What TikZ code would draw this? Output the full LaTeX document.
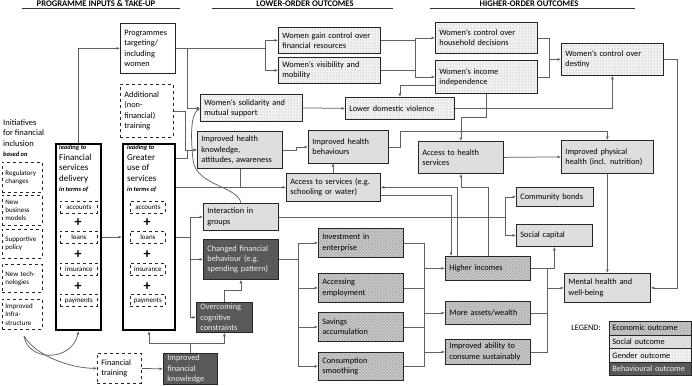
\documentclass[tikz,border=0pt]{standalone}
\usepackage{fontspec}
\setmainfont{Carlito}
\usetikzlibrary{arrows.meta,patterns,calc}
\colorlet{lineGray}{black!62}
\colorlet{socialGray}{black!13}
\colorlet{econGray}{black!18}
\colorlet{genderGray}{black!5}
\colorlet{behavGray}{black!65}

\begin{document}
\begin{tikzpicture}[x=1pt, y=-1pt,
    every node/.style={font=\fontsize{8.3}{10.3}\selectfont, inner xsep=4pt, inner ysep=1pt, align=left},
    bx/.style 2 args={anchor=north west, text width=#1pt, minimum height=#2pt},
    outc/.style={draw=black!85, line width=0.8pt},
    econ/.style={outc, preaction={fill=econGray}, pattern=crosshatch, pattern color=black!32},
    social/.style={outc, fill=socialGray},
    gender/.style={outc, preaction={fill=genderGray}, pattern=dots, pattern color=black!40},
    behav/.style={outc, fill=behavGray, text=black!6},
    inbox/.style={draw=black!85, line width=0.8pt, fill=white},
    dashbox/.style={inbox, dashed},
    initbox/.style={dashbox, font=\fontsize{7}{8.3}\selectfont, inner xsep=3pt},
    termbox/.style={dashbox, font=\fontsize{7}{8}\selectfont, inner xsep=1pt, align=center},
    column/.style={draw=black, line width=2pt, fill=white, anchor=north west, inner sep=0pt},
    coltext/.style={anchor=north west, inner sep=0pt, font=\fontsize{9}{10.5}\selectfont},
    plus/.style={font=\fontsize{14}{14}\selectfont\bfseries, inner sep=0pt},
    hdr/.style={font=\fontsize{8.6}{10}\selectfont\bfseries, inner sep=0pt},
    conn/.style={draw=lineGray, line width=0.75pt},
    arr/.style={conn, -{Latex[length=3.5pt,width=3pt]}}
  ]
  \useasboundingbox (0,0) rectangle (692,385);
  \newcommand{\smallit}[1]{{\fontsize{6.5}{7}\selectfont\bfseries\itshape #1}}

  % headings
  \node[hdr] (hdin) at (96,3.5) {PROGRAMME INPUTS \& TAKE-UP};
  \node[hdr] (hdlow) at (305,3.5) {LOWER-ORDER OUTCOMES};
  \node[hdr] (hdhigh) at (529,3.5) {HIGHER-ORDER OUTCOMES};
  \draw[black!80, line width=1pt] (22,8.5) -- (180,8.5);
  \draw[black!80, line width=1pt] (212,8.5) -- (393,8.5);
  \draw[black!80, line width=1pt] (430,8.5) -- (635,8.5);

  % programme inputs
  \node[coltext, font=\fontsize{8.5}{10.5}\selectfont] (initxt) at (3,119) {Initiatives\\for financial\\inclusion\\\smallit{based on}};
  \node[initbox, bx={34}{30}] (reg) at (2,162) {Regulatory\\changes};
  \node[initbox, bx={34}{30}] (newbiz) at (2,195) {New\\business\\models};
  \node[initbox, bx={34}{29}] (supp) at (2,229) {Supportive\\policy};
  \node[initbox, bx={34}{28}] (newtech) at (2,264) {New tech-\\nologies};
  \node[initbox, bx={34}{30}] (infra) at (2,299) {Improved\\Infra-\\structure};

  \node[column, minimum width=45pt, minimum height=186pt] (fsd) at (55,143) {};
  \node[coltext] (fsdtxt) at (59,145) {\smallit{leading to}\\Financial\\services\\delivery\\\smallit{in terms of}};
  \node[termbox, bx={35}{12}] (fsdacc) at (60,201) {accounts};
  \node[termbox, bx={35}{12}] (fsdloan) at (60,231) {loans};
  \node[termbox, bx={35}{12}] (fsdins) at (60,263) {insurance};
  \node[termbox, bx={35}{12}] (fsdpay) at (60,294) {payments};
  \node[plus] (fsdp1) at (78,223) {+};
  \node[plus] (fsdp2) at (78,255) {+};
  \node[plus] (fsdp3) at (78,287) {+};

  \node[column, minimum width=52pt, minimum height=186pt] (gus) at (122,143) {};
  \node[coltext] (gustxt) at (127,145) {\smallit{leading to}\\Greater\\use of\\services\\\smallit{in terms of}};
  \node[termbox, bx={33}{12}] (gusacc) at (130,201) {accounts};
  \node[termbox, bx={33}{12}] (gusloan) at (130,231) {loans};
  \node[termbox, bx={33}{12}] (gusins) at (130,263) {insurance};
  \node[termbox, bx={33}{12}] (guspay) at (130,294) {payments};
  \node[plus] (gusp1) at (147,223) {+};
  \node[plus] (gusp2) at (147,255) {+};
  \node[plus] (gusp3) at (147,287) {+};

  \node[inbox, bx={47}{50}] (prog) at (120,23) {Programmes\\targeting/\\including\\women};
  \node[dashbox, bx={45}{53}] (addtrain) at (120,84) {Additional\\(non-\\financial)\\training};
  \node[dashbox, bx={36}{30}] (fintrain) at (97,353) {Financial\\training};
  \node[behav, bx={46}{31}] (finknow) at (163,353) {Improved\\financial\\knowledge};

  % lower-order outcomes
  \node[gender, bx={94}{26}] (wgain) at (278,27) {Women gain control over\\financial resources};
  \node[gender, bx={94}{26}] (wvis) at (278,57) {Women’s visibility and\\mobility};
  \node[gender, bx={94}{27}] (solid) at (200,94) {Women’s solidarity and\\mutual support};
  \node[gender, bx={101}{22}] (ldv) at (345,97) {Lower domestic violence};
  \node[social, bx={77}{37}] (hknow) at (197,131) {Improved health\\knowledge,\\attitudes, awareness};
  \node[social, bx={72}{33}] (hbeh) at (308,130) {Improved health\\behaviours};
  \node[social, bx={86}{28}] (accserv) at (286,173) {Access to services (e.g.\\schooling or water)};
  \node[social, bx={67}{27}] (inter) at (203,203) {Interaction in\\groups};
  \node[behav, bx={67}{40}] (chfin) at (203,239) {Changed financial\\behaviour (e.g.\\spending pattern)};
  \node[behav, bx={48}{30}] (overc) at (196,302) {Overcoming\\cognitive\\constraints};
  \node[econ, bx={77}{29}] (invest) at (318,228) {Investment in\\enterprise};
  \node[econ, bx={77}{29}] (employ) at (318,273) {Accessing\\employment};
  \node[econ, bx={77}{29}] (savings) at (318,312) {Savings\\accumulation};
  \node[econ, bx={77}{28}] (cons) at (318,352) {Consumption\\smoothing};

  % higher-order outcomes
  \node[gender, bx={94}{31}] (whh) at (435,22) {Women’s control over\\household decisions};
  \node[gender, bx={94}{33}] (winc) at (435,60) {Women’s income\\independence};
  \node[gender, bx={94}{32}] (wdest) at (561,43) {Women’s control over\\destiny};
  \node[social, bx={77}{32}] (acchealth) at (418,141) {Access to health\\services};
  \node[social, bx={84}{33}] (physh) at (561,140) {Improved physical\\health (incl. nutrition)};
  \node[social, bx={69}{19}] (comm) at (516,187) {Community bonds};
  \node[social, bx={68}{22}] (socap) at (516,224) {Social capital};
  \node[econ, bx={77}{24}] (hinc) at (445,256) {Higher incomes};
  \node[econ, bx={77}{23}] (assets) at (445,301) {More assets/wealth};
  \node[econ, bx={77}{25}] (consume) at (445,339) {Improved ability to\\consume sustainably};
  \node[social, bx={78}{29}] (mental) at (564,273) {Mental health and\\well-being};

  % legend
  \node[anchor=east] (legtxt) at (605,328) {LEGEND:};
  \node[econ, bx={76}{13.5}, inner xsep=3pt] (legecon) at (609,321) {Economic outcome};
  \node[social, bx={76}{13.5}, inner xsep=3pt] (legsoc) at (609,334.5) {Social outcome};
  \node[gender, bx={76}{13.5}, inner xsep=3pt] (leggen) at (609,348) {Gender outcome};
  \node[behav, bx={76}{13.5}, inner xsep=3pt] (legbeh) at (609,361.5) {Behavioural outcome};

  % connectors: inputs
  \coordinate (ini) at (24,336);
  \draw[arr] (fsd.north) |- (prog.west);
  \draw[arr] (fsd.east) -- (gus.west);
  \draw[arr] (ini) .. controls (28,362) and (72,362) .. (fsd.south);
  \draw[arr] (ini) .. controls (36,356) and (70,368) .. (fintrain.west);
  \draw[arr] (fintrain.east) -- (finknow.west);
  \draw[conn] (finknow.north) -- ++(0,-10) coordinate (kn);
  \draw[arr] (kn) -| (gus.south);
  \draw[arr] (kn) -| (overc.south);
  \draw[conn] (prog.east) -- ++(90,0) coordinate (pw);
  \draw[arr] (pw) |- (wgain.west);
  \draw[arr] (pw) |- (wvis.west);
  \draw[arr] ([xshift=12pt]prog.east) |- (solid.west);
  \draw[arr] (addtrain.east) -- ++(12,0) |- (hknow.west);
  \draw[arr] ([yshift=-15pt]gus.north east) -- ++(11,0) |- (hknow.west);
  \draw[arr] (gus.east |- accserv.west) -- (accserv.west);
  \draw[conn] (hknow.south) -- (hknow.south |- accserv.west);
  \draw[conn] (gus.east) -- ++(14,0) coordinate (gw);
  \draw[arr] (gw) |- (inter.west);
  \draw[arr] (gw) |- (chfin.west);
  \draw[arr] (gw) |- (overc.west);

  % connectors: lower-order
  \draw[arr] (inter.north) .. controls (238,186) and (196,186) .. (193,160) .. controls (191,140) and (190,116) .. (solid.west);
  \draw[conn] (inter.east) -- ++(227,0) coordinate (iw);
  \draw[arr] (iw) |- (comm.west);
  \draw[arr] (iw) |- (socap.west);
  \draw[conn] (chfin.east) -- ++(20,0) coordinate (cw);
  \draw[arr] (cw) |- (invest.west);
  \draw[arr] (cw) |- (employ.west);
  \draw[arr] (cw) |- (savings.west);
  \draw[arr] (cw) |- (cons.west);
  \draw[arr] (overc.north) -- ++(0,-12) -| (chfin.south);
  \draw[arr] (solid.east) -- (ldv.west);
  \draw[arr] (hknow.east) -- ++(14,0) |- (hbeh.west);
  \draw[arr] ([xshift=47pt]accserv.north west) -- ++(0,-10);
  \draw[arr] (hbeh.east) -- ++(12,0) |- ([yshift=9pt]physh.north) -- (physh.north);

  % connectors: gender
  \draw[conn] (wgain.east) -- ++(35,0) coordinate (ww);
  \draw[conn] (wvis.east) -- ++(35,0);
  \draw[arr] (ww) |- (whh.west);
  \draw[arr] (ww) |- (winc.west);
  \draw[conn] (whh.east) -- ++(12,0) coordinate (hw);
  \draw[conn] (winc.east) -- ++(12,0) coordinate (hw2);
  \draw[conn] (hw) -- (hw2);
  \draw[arr] (hw |- wdest.west) -- (wdest.west);
  \draw[arr] ([yshift=-8pt]winc.west) -| (ldv.north);
  \draw[arr] (ldv.east) -| (wdest.south);
  \draw[arr] (winc.south) |- ([yshift=24pt]acchealth.north) -- (acchealth.north);
  \draw[arr] (acchealth.east) -- (physh.west);
  \draw[arr] (physh.south) -- (mental.north);
  \draw[arr] (wdest.east) -- ++(14,0) |- (mental.east);

  % connectors: economic
  \draw[conn] (invest.east) -- ++(21,0) coordinate (ew);
  \draw[conn] (cons.east) -- ++(21,0) coordinate (ew2);
  \draw[conn] (ew) -- (ew2);
  \draw[conn] (employ.east) -- ++(21,0);
  \draw[conn] (savings.east) -- ++(21,0);
  \draw[arr] (ew |- hinc.west) -- (hinc.west);
  \draw[arr] (ew |- assets.west) -- (assets.west);
  \draw[arr] (ew |- consume.west) -- (consume.west);
  \draw[conn] (hinc.east) -- ++(17,0) coordinate (mw);
  \draw[conn] (consume.east) -- ++(17,0) coordinate (mw2);
  \draw[conn] (mw) -- (mw2);
  \draw[conn] (assets.east) -- ++(17,0);
  \draw[arr] (mw |- mental.west) -- (mental.west);
  \draw[arr] (hinc.east) -| (socap.south);
  \draw[arr] ([xshift=12pt]hinc.north west) |- (accserv.east);
  \draw[arr] ([yshift=-8pt]accserv.east) -| ([xshift=6pt]hinc.north west);
  \draw[arr] ([xshift=43pt]hinc.north west) |- ([yshift=-14pt]acchealth.south) -- (acchealth.south);
\end{tikzpicture}
\end{document}
